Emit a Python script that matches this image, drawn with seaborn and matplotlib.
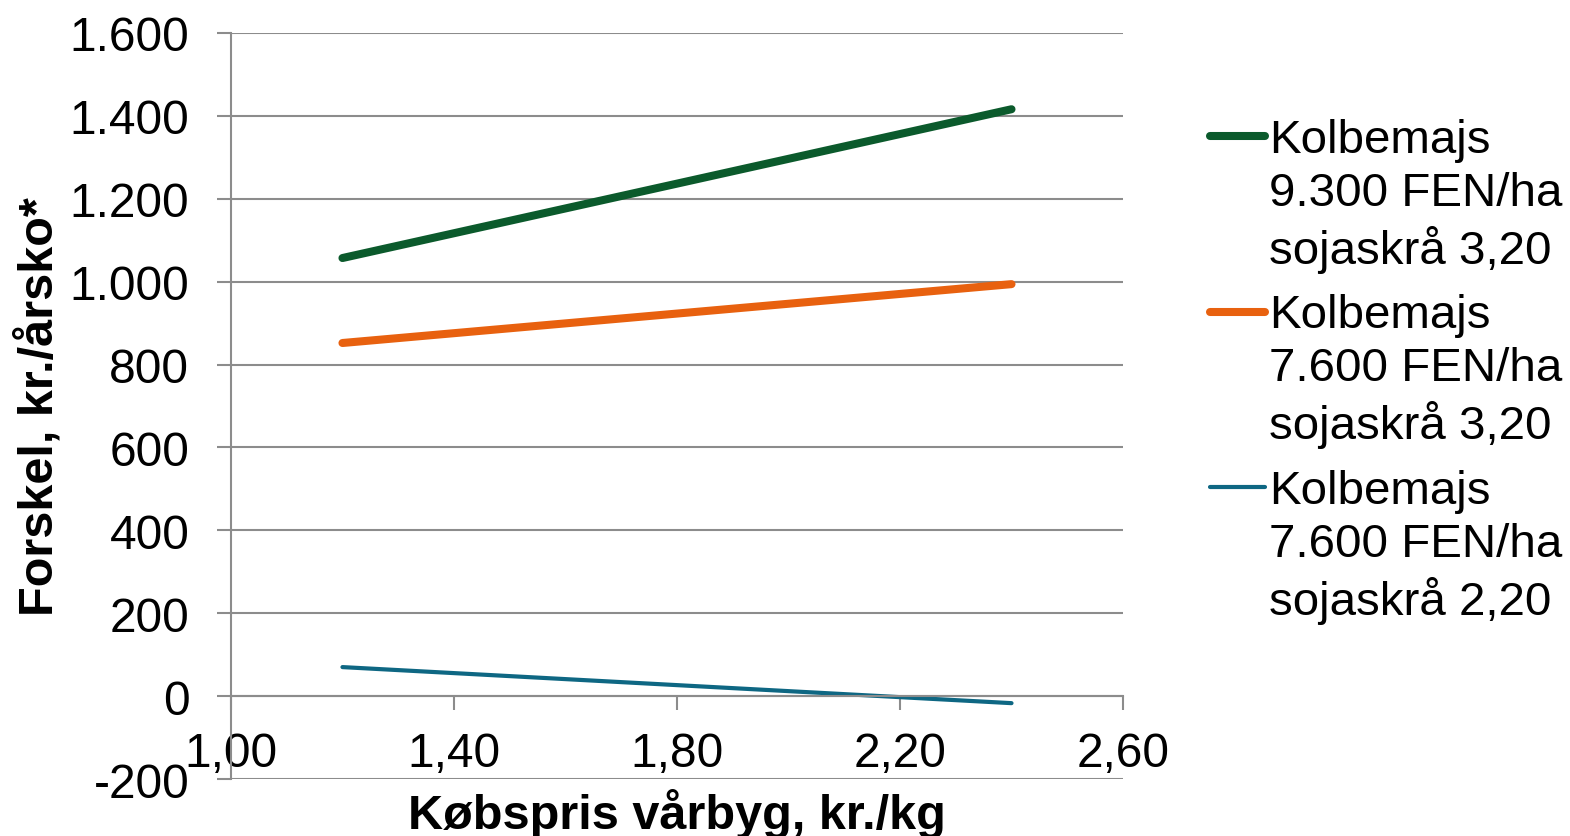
import pandas as pd
import matplotlib.pyplot as plt
import seaborn as sns
from matplotlib.ticker import FuncFormatter, MultipleLocator, FixedLocator

# --- DATA ---
price = [1.20, 2.40]  # Købspris vårbyg, kr./kg
kolbe_9300_soja_320 = [1057, 1416]
kolbe_7600_soja_320 = [852, 994]
kolbe_7600_soja_220 = [70, -17]

x_ticks = [1.00, 1.40, 1.80, 2.20, 2.60]
labels = [
    "Kolbemajs\n9.300 FEN/ha\nsojaskrå 3,20",
    "Kolbemajs\n7.600 FEN/ha\nsojaskrå 3,20",
    "Kolbemajs\n7.600 FEN/ha\nsojaskrå 2,20",
]
colors = ["#0B5A2C", "#E8610F", "#0E6783"]
widths = [5.8, 5.8, 3.0]

rows = []
for lab, vals in zip(labels, [kolbe_9300_soja_320, kolbe_7600_soja_320, kolbe_7600_soja_220]):
    for x, y in zip(price, vals):
        rows.append({"pris": x, "forskel": y, "serie": lab})
df = pd.DataFrame(rows)

# --- STYLE ---
sns.set_style("white")
plt.rcParams["font.family"] = ["Liberation Sans", "DejaVu Sans"]
plt.rcParams["text.color"] = "black"
plt.rcParams["axes.labelcolor"] = "black"
GRAY = "#8C8C8C"

fig = plt.figure(figsize=(15.7, 8.37), dpi=100)
ax = fig.add_axes([0.1471, 0.0681, 0.5682, 0.8913])

sns.lineplot(data=df, x="pris", y="forskel", hue="serie", size="serie",
             hue_order=labels, size_order=labels,
             palette=dict(zip(labels, colors)), sizes=dict(zip(labels, widths)),
             solid_capstyle="round", ax=ax)

ax.set_xlim(1.0, 2.6)
ax.set_ylim(-200, 1600)
ax.xaxis.set_major_locator(FixedLocator(x_ticks))
ax.yaxis.set_major_locator(MultipleLocator(200))
ax.xaxis.set_major_formatter(FuncFormatter(lambda v, p: f"{v:.2f}".replace(".", ",")))
ax.yaxis.set_major_formatter(FuncFormatter(lambda v, p: f"{v:,.0f}".replace(",", ".")))

ax.grid(axis="y", color=GRAY, linewidth=1.5)
ax.grid(axis="x", visible=False)
for s in ["top", "right"]:
    ax.spines[s].set_visible(False)
ax.spines["bottom"].set_position(("data", 0))
ax.spines["bottom"].set_color(GRAY)
ax.spines["bottom"].set_linewidth(1.5)
ax.spines["left"].set_color(GRAY)
ax.spines["left"].set_linewidth(1.5)

ax.tick_params(axis="y", direction="out", length=10, width=1.5, color=GRAY,
               labelsize=34.5, pad=20, left=True, labelcolor="black")
ax.tick_params(axis="x", direction="out", length=10, width=1.5, color=GRAY,
               labelsize=34.5, pad=15, bottom=True, labelcolor="black")

ax.set_xlabel("Købspris vårbyg, kr./kg", fontsize=35, fontweight="bold", color="black")
ax.set_ylabel("Forskel, kr./årsko*", fontsize=35, fontweight="bold", color="black")
ax.xaxis.set_label_coords(0.5, -0.012)
ax.yaxis.set_label_coords(-0.189, 0.5)

leg = ax.legend(loc="upper left", bbox_to_anchor=(0.7707, 0.858),
                bbox_transform=fig.transFigure, frameon=False, fontsize=34.2,
                handlelength=1.15, handletextpad=0.1, handleheight=0.9,
                labelspacing=0.44, borderpad=0, borderaxespad=0)
for col in leg._legend_handle_box.get_children():
    for row in col.get_children():
        row.align = "top"
for t in leg.get_texts():
    t.set_color("black")
    t.set_linespacing(1.26)

fig.savefig("out.png", dpi=100)
